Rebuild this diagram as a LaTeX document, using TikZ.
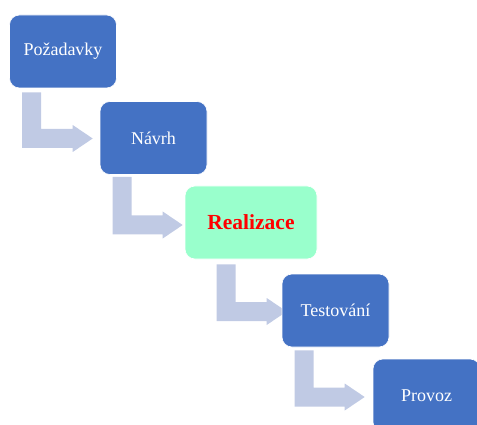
\documentclass[tikz,border=0pt]{standalone}
\usepackage{fontspec}
\setmainfont{Liberation Serif}
\usepackage{xcolor}
\usetikzlibrary{calc, backgrounds}

\definecolor{stageblue}{HTML}{4472C4}
\definecolor{flowgray}{HTML}{C0CAE4}
\definecolor{mint}{HTML}{99FFCC}

\begin{document}
\begin{tikzpicture}[
		x=1pt, y=1pt,
		stage/.style={rectangle, rounded corners=10pt, fill=stageblue, draw=white, line width=0.6pt,
			text=white, minimum width=107pt, minimum height=73pt, font=\fontsize{18}{21}\selectfont},
		flow/.style={fill=flowgray}
		]
		\useasboundingbox (0,0) rectangle (477,-425);
		
		% Stages
		\node[stage] (req) at (63,-51.5) {Požadavky};
		\node[stage] (design) at (153.5,-138) {Návrh};
		\node[stage, fill=mint, text=red, minimum width=132pt,
			font=\fontsize{21.5}{24}\selectfont\bfseries] (impl) at (251,-222.5) {Realizace};
		\node[stage] (test) at (335.5,-310.5) {Testování};
		\node[stage] (run) at (426.5,-395.5) {Provoz};
		
		% Bent arrows between stages
		\begin{scope}[on background layer]
			\coordinate (t1) at ($(design.west)+(-7,-0.5)$);
			\fill[flow] ($(req.south west)+(13,-4)$) coordinate (a1) -- ++(19,0) |- ($(t1)+(-20,9.5)$)
			-- ++(0,4) -- (t1) -- ++(-20,-13.5) -- ++(0,4) -| (a1) -- cycle;
			
			\coordinate (t2) at ($(impl.west)+(-2,-2.5)$);
			\fill[flow] ($(design.south west)+(13,-2)$) coordinate (a2) -- ++(19,0) |- ($(t2)+(-20,9.5)$)
			-- ++(0,4) -- (t2) -- ++(-20,-13.5) -- ++(0,4) -| (a2) -- cycle;
			
			\coordinate (t3) at ($(test.west)+(5,-1)$);
			\fill[flow] ($(impl.south west)+(32,-5)$) coordinate (a3) -- ++(19,0) |- ($(t3)+(-20,9.5)$)
			-- ++(0,4) -- (t3) -- ++(-20,-13.5) -- ++(0,4) -| (a3) -- cycle;
			
			\coordinate (t4) at ($(run.west)+(-8,-1.5)$);
			\fill[flow] ($(test.south west)+(13,-3)$) coordinate (a4) -- ++(19,0) |- ($(t4)+(-20,9.5)$)
			-- ++(0,4) -- (t4) -- ++(-20,-13.5) -- ++(0,4) -| (a4) -- cycle;
		\end{scope}
		
	\end{tikzpicture}
\end{document}
